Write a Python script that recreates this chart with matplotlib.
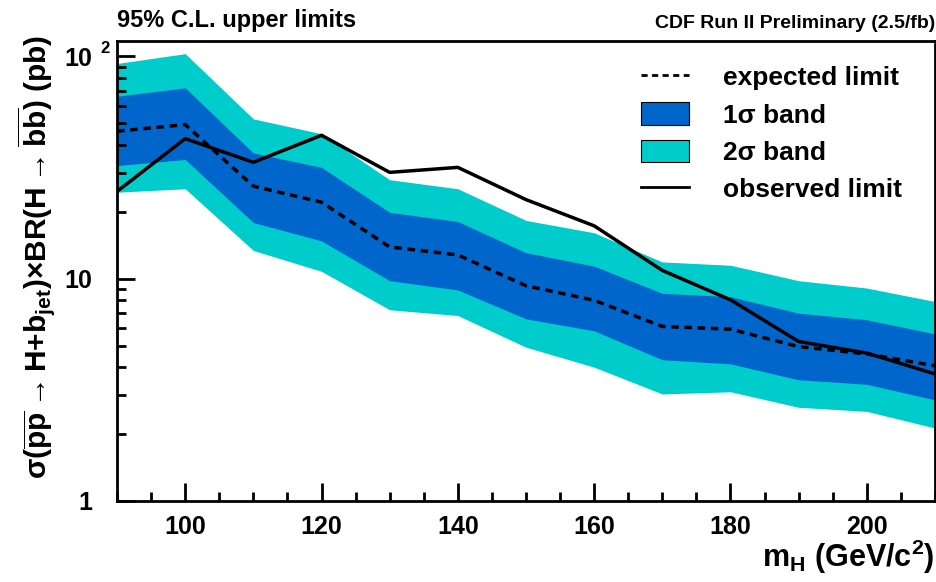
import matplotlib
matplotlib.use("Agg")
import matplotlib.pyplot as plt
from matplotlib.lines import Line2D
from matplotlib.patches import Patch

plt.rcParams['font.family'] = ['Liberation Sans', 'DejaVu Sans']
plt.rcParams['font.weight'] = 'bold'
plt.rcParams['mathtext.fontset'] = 'custom'
plt.rcParams['mathtext.rm'] = 'Liberation Sans:bold'
plt.rcParams['mathtext.it'] = 'Liberation Sans:bold'
plt.rcParams['mathtext.bf'] = 'Liberation Sans:bold'
plt.rcParams['mathtext.sf'] = 'Liberation Sans:bold'

# Higgs mass points (GeV/c^2)
mass = [90, 100, 110, 120, 130, 140, 150, 160, 170, 180, 190, 200, 210]
# limits in pb
observed = [24.7, 42.7, 33.4, 44.2, 30.1, 31.7, 22.7, 17.3, 10.9, 8.04, 5.22, 4.63, 3.73]
expected = [46.1, 49.4, 26.1, 22.1, 13.9, 12.8, 9.3, 8.0, 6.1, 5.93, 4.95, 4.59, 4.06]
band1_lo = [32.3, 34.4, 17.9, 14.8, 9.8, 8.9, 6.6, 5.83, 4.32, 4.14, 3.51, 3.35, 2.85]
band1_hi = [66.2, 72.3, 36.8, 31.7, 19.9, 18.1, 13.1, 11.4, 8.6, 8.3, 7.0, 6.54, 5.65]
band2_lo = [24.5, 25.4, 13.4, 10.8, 7.25, 6.83, 4.92, 4.0, 3.03, 3.10, 2.64, 2.53, 2.13]
band2_hi = [93.0, 103.0, 52.4, 44.9, 27.9, 25.4, 18.3, 16.1, 11.9, 11.5, 9.8, 9.08, 7.9]

cyan = '#00cccc'
blue = '#0066cc'

fig = plt.figure(figsize=(9.37, 5.82), dpi=100)
ax = fig.add_axes([0.1249, 0.1392, 0.8729, 0.7912])

ax.fill_between(mass, band2_lo, band2_hi, color=cyan, lw=0)
ax.fill_between(mass, band1_lo, band1_hi, color=blue, lw=0)
ax.plot(mass, expected, color='black', lw=2.5, linestyle=(0, (2.2, 1.6)))
ax.plot(mass, observed, color='black', lw=2.5)

ax.set_yscale('log')
ax.set_xlim(90, 210)
ax.set_ylim(1, 118)

ax.set_xticks([100, 120, 140, 160, 180, 200])
ax.set_xticks(range(90, 211, 5), minor=True)
ax.set_yticks([1, 10, 100])
ax.set_yticklabels(['1', '10', '10'])
ax.set_yticks([v * d for d in (1, 10) for v in range(2, 10)], minor=True)
ax.yaxis.set_minor_formatter(plt.NullFormatter())

ax.tick_params(which='both', direction='in', width=2, top=False, right=False,
               labelsize=18)
ax.tick_params(which='major', length=12.7)
ax.tick_params(which='minor', length=6.3)
ax.tick_params(axis='x', pad=10)
ax.tick_params(axis='y', pad=18)
for s in ax.spines.values():
    s.set_linewidth(2)

# ROOT style exponent on the top label
ax.annotate('2', xy=(0, 100), xycoords=('axes fraction', 'data'),
            xytext=(-12, 0), textcoords='offset points', fontsize=12,
            fontweight='bold', ha='left', va='bottom')

fig.text(0.1249, 0.945, '95% C.L. upper limits', fontsize=17, fontweight='bold',
         ha='left', va='bottom')
fig.text(0.998, 0.945, 'CDF Run II Preliminary (2.5/fb)', fontsize=14,
         fontweight='bold', ha='right', va='bottom')

fig.text(0.997, 0.01, r'm$_{\mathrm{H}}$ (GeV/c$^{2}$)', fontsize=22,
         ha='right', va='bottom')
fig.text(0.016, 0.94,
         r'$\sigma$($\overline{\mathrm{pp}}\rightarrow$H+b$_{\mathrm{jet}}$)'
         r'$\times$BR(H$\rightarrow\overline{\mathrm{bb}}$) (pb)',
         fontsize=21.5, rotation=90, ha='left', va='top')

handles = [
    Line2D([], [], color='black', lw=2, linestyle=(0, (2.2, 1.6))),
    Patch(facecolor=blue, edgecolor='black', lw=0.8),
    Patch(facecolor=cyan, edgecolor='black', lw=0.8),
    Line2D([], [], color='black', lw=2),
]
labels = ['expected limit', '1σ band', '2σ band', 'observed limit']
ax.legend(handles, labels, loc='upper left', bbox_to_anchor=(0.670, 0.911),
          bbox_transform=fig.transFigure, frameon=False, fontsize=19,
          handlelength=1.82, handleheight=0.92, handletextpad=1.29,
          labelspacing=0.46, borderpad=0)

fig.savefig('out.png', dpi=100)
